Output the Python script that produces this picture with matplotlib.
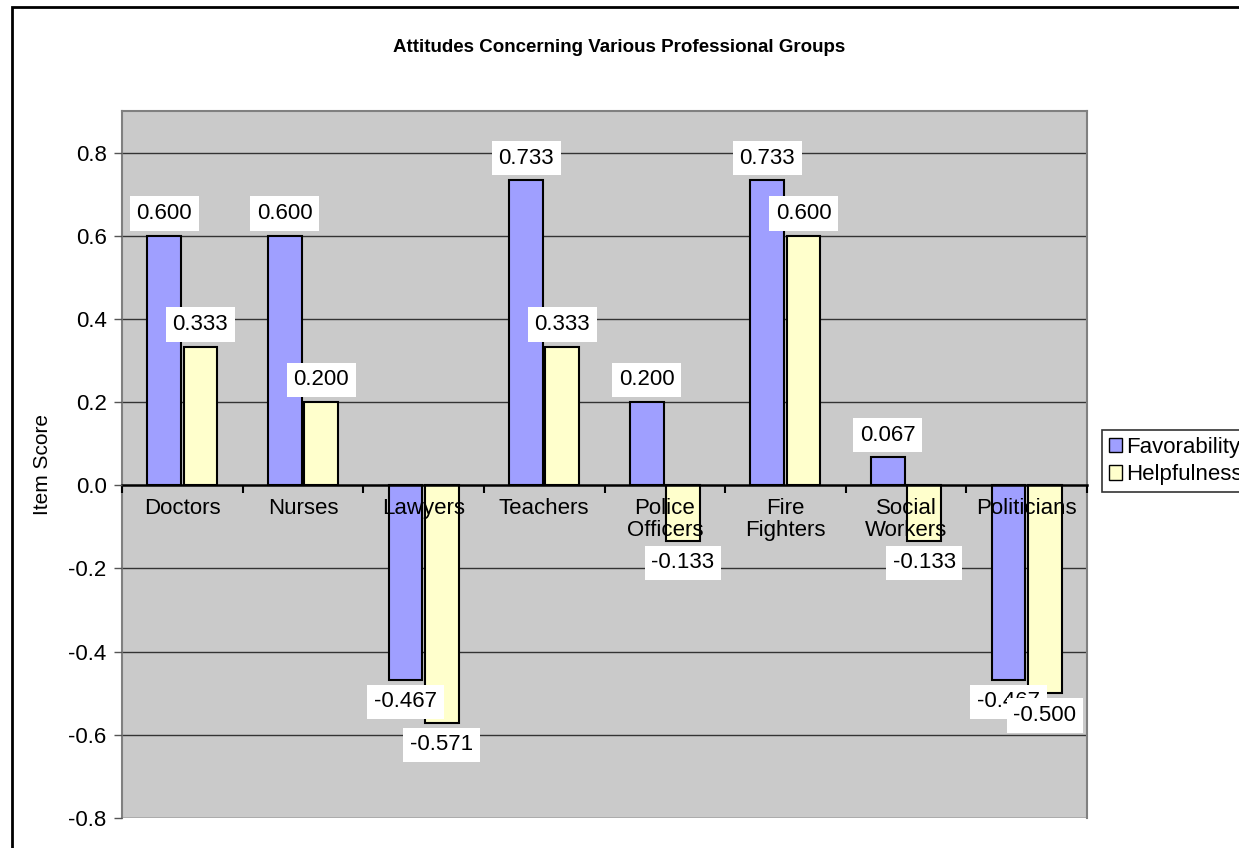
import numpy as np
import matplotlib
matplotlib.use("Agg")
import matplotlib.pyplot as plt
from matplotlib.patches import Rectangle, Patch

plt.rcParams["font.family"] = ["Liberation Sans", "DejaVu Sans"]

# datos del grafico
grupos = ["Doctors", "Nurses", "Lawyers", "Teachers", "Police\nOfficers",
          "Fire\nFighters", "Social\nWorkers", "Politicians"]
favorability = [0.600, 0.600, -0.467, 0.733, 0.200, 0.733, 0.067, -0.467]
helpfulness = [0.333, 0.200, -0.571, 0.333, -0.133, 0.600, -0.133, -0.500]
yticks = [-0.8, -0.6, -0.4, -0.2, 0.0, 0.2, 0.4, 0.6, 0.8]

col_fav = "#9f9fff"
col_help = "#ffffcc"
fs = 16

fig = plt.figure(figsize=(12.39, 8.48), dpi=100)
ax = fig.add_axes([122 / 1239, 30 / 848, 965 / 1239, 707 / 848])
ax.set_facecolor("#cacaca")

# lineas de grilla a mano, detras de las barras
for t in yticks:
    if t != 0:
        ax.axhline(t, color="#333333", linewidth=1, zorder=0.5)

x = np.arange(len(grupos))
ancho = 0.28
b1 = ax.bar(x - 0.15, favorability, ancho, color=col_fav, edgecolor="black",
            linewidth=1.5, zorder=2)
b2 = ax.bar(x + 0.15, helpfulness, ancho, color=col_help, edgecolor="black",
            linewidth=1.5, zorder=2)

# etiquetas de valor con caja blanca
for barras, valores in [(b1, favorability), (b2, helpfulness)]:
    for rect, v in zip(barras, valores):
        cx = rect.get_x() + rect.get_width() / 2
        off = 16 if v >= 0 else -16
        ax.annotate(f"{v:.3f}", (cx, v), xytext=(0, off), textcoords="offset points",
                    ha="center", va="center", fontsize=fs, zorder=6,
                    bbox=dict(boxstyle="square,pad=0.3", fc="white", ec="none"))

ax.set_xlim(-0.5, len(grupos) - 0.5)
ax.set_ylim(-0.8, 0.9)
ax.set_yticks(yticks)
ax.set_yticklabels([f"{t:.1f}" for t in yticks], fontsize=fs)
ax.set_axisbelow(False)  # nombres de categorias por encima de las barras

# eje x en el cero, ticks entre categorias
ax.spines["bottom"].set_position(("data", 0))
ax.spines["bottom"].set_color("black")
ax.spines["bottom"].set_linewidth(1.8)
for lado in ["left", "top", "right"]:
    ax.spines[lado].set_color("#808080")
    ax.spines[lado].set_linewidth(1.5)

ax.set_xticks(np.arange(-0.5, len(grupos), 1.0))
ax.set_xticklabels([])
ax.set_xticks(x, minor=True)
ax.set_xticklabels(grupos, minor=True, fontsize=fs, linespacing=1.05)
ax.tick_params(axis="x", which="major", direction="out", length=6, width=1.5, color="black")
ax.tick_params(axis="x", which="minor", length=0, pad=9)
ax.tick_params(axis="y", direction="out", length=6, width=1, color="#555555", pad=5)

ax.set_ylabel("Item Score", fontsize=fs - 1, labelpad=12)
fig.text(0.5, 1 - 47 / 848, "Attitudes Concerning Various Professional Groups",
         ha="center", va="center", fontsize=13.5, fontweight="bold")

handles = [Patch(facecolor=col_fav, edgecolor="black", label="Favorability"),
           Patch(facecolor=col_help, edgecolor="black", label="Helpfulness")]
leg = fig.legend(handles=handles, loc="upper left", bbox_to_anchor=(1102 / 1239, 1 - 430 / 848),
                 fontsize=fs, frameon=True, fancybox=False, edgecolor="black",
                 handlelength=0.6, handleheight=0.6, handletextpad=0.2,
                 borderpad=0.3, labelspacing=0.3, borderaxespad=0)
leg.get_frame().set_linewidth(1.2)

# marco exterior del grafico
marco = Rectangle((12 / 1239, -0.1), 1.2, 1.1 - 7 / 848, transform=fig.transFigure,
                  fill=False, edgecolor="black", linewidth=2, clip_on=False)
fig.patches.append(marco)

fig.savefig("out.png", dpi=100)
